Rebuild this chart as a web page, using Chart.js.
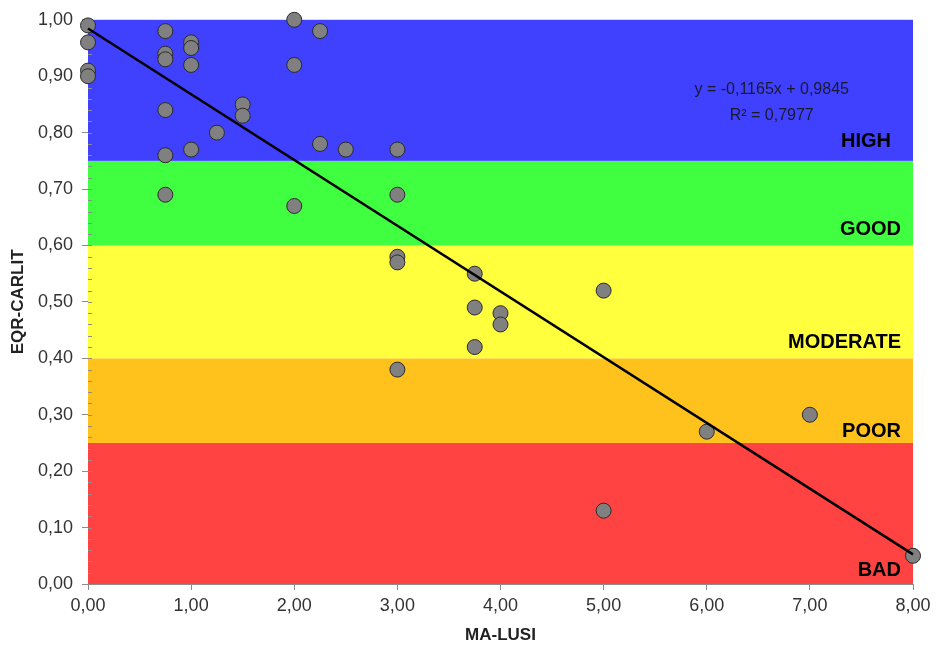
<!DOCTYPE html>
<html>
<head>
<meta charset="utf-8">
<title>EQR-CARLIT vs MA-LUSI</title>
<script src="https://cdn.jsdelivr.net/npm/chart.js@4/dist/chart.umd.min.js"></script>
<style>
    html, body { margin:0; padding:0; background:#ffffff; }
</style>
</head>
<body>
<canvas id="graficoCarlit" width="936" height="655"></canvas>
<script>

// valores
const maLusi = [
    0, 0, 0, 0,
    0.75, 0.75, 0.75, 0.75, 0.75, 0.75,
    1, 1, 1, 1,
    1.25,
    1.5, 1.5,
    2, 2, 2,
    2.25, 2.25,
    2.5,
    3, 3, 3, 3, 3,
    3.75, 3.75, 3.75,
    4, 4,
    5, 5,
    6,
    7,
    8
];

const eqrCarlit = [
    0.99, 0.96, 0.91, 0.90,
    0.98, 0.94, 0.93, 0.84, 0.76, 0.69,
    0.96, 0.95, 0.92, 0.77,
    0.80,
    0.85, 0.83,
    1.00, 0.92, 0.67,
    0.98, 0.78,
    0.77,
    0.77, 0.69, 0.58, 0.57, 0.38,
    0.55, 0.49, 0.42,
    0.48, 0.46,
    0.52, 0.13,
    0.27,
    0.30,
    0.05
];

// clases de estado ecologico (de abajo hacia arriba)
const limitesClases = [0, 0.25, 0.40, 0.60, 0.75, 1.00];
const nombresClases = ["BAD", "POOR", "MODERATE", "GOOD", "HIGH"];

// recta de regresion
const pendiente = -0.1165;
const intercepto = 0.9845;
const r2 = 0.7977;
const rangoRecta = [0, 8];

const coloresClases = [
    "#ff4242",
    "#ffc21c",
    "#ffff3d",
    "#40ff40",
    "#4040ff"
];

// separacion de cada rotulo respecto al borde inferior de su franja
const margenRotulo = {BAD:8, POOR:6, MODERATE:10, GOOD:10, HIGH:14};

const fuente = "'Liberation Sans', Arial, sans-serif";

function coma(v, dec){
    return v.toFixed(dec).replace(".", ",");
}

const pluginFranjas = {

    id:"franjas",

    beforeDatasetsDraw(chart){

        const {ctx, chartArea, scales} = chart;
        const y = scales.y;
        const x = scales.x;

        ctx.save();

        for (let i = 0; i < nombresClases.length; i++){

            const arriba = y.getPixelForValue(limitesClases[i + 1]);
            const abajo = y.getPixelForValue(limitesClases[i]);

            ctx.fillStyle = coloresClases[i];
            ctx.fillRect(
                chartArea.left,
                arriba,
                chartArea.right - chartArea.left,
                abajo - arriba
            );
        }

        // marcas menores del eje y
        ctx.strokeStyle = "#8c8c8c";
        ctx.lineWidth = 1;
        for (let k = 0; k <= 50; k++){
            const py = Math.round(y.getPixelForValue(k * 0.02)) + 0.5;
            ctx.beginPath();
            ctx.moveTo(chartArea.left, py);
            ctx.lineTo(chartArea.left + 4, py);
            ctx.stroke();
        }

        // nombres de las clases
        ctx.fillStyle = "#000000";
        ctx.font = "bold 20px " + fuente;
        ctx.textAlign = "right";
        ctx.textBaseline = "alphabetic";

        for (let i = 0; i < nombresClases.length; i++){

            const nombre = nombresClases[i];
            const abajo = y.getPixelForValue(limitesClases[i]);
            const derecha =
                nombre === "HIGH"
                ? chartArea.right - 22
                : chartArea.right - 12;

            ctx.fillText(nombre, derecha, abajo - margenRotulo[nombre]);
        }

        // ecuacion
        ctx.fillStyle = "#1a1a2e";
        ctx.font = "16px " + fuente;
        ctx.textAlign = "center";
        ctx.textBaseline = "middle";

        const cx = x.getPixelForValue(6.63);

        ctx.fillText(
            "y = " + coma(pendiente, 4) + "x + " + coma(intercepto, 4),
            cx,
            y.getPixelForValue(0.876)
        );

        ctx.fillText(
            "R\u00b2 = " + coma(r2, 4),
            cx,
            y.getPixelForValue(0.830)
        );

        ctx.restore();
    }
};

new Chart(

    document.getElementById("graficoCarlit"),

    {
        type:"scatter",

        data:{

            datasets:[

                {
                    type:"line",
                    label:"Lineal",
                    data:rangoRecta.map(
                        v => ({x:v, y:intercepto + pendiente * v})
                    ),
                    borderColor:"#000000",
                    borderWidth:2.5,
                    pointRadius:0,
                    fill:false,
                    clip:false,
                    order:0
                },

                {
                    label:"EQR-CARLIT",
                    data:maLusi.map(
                        (v, i) => ({x:v, y:eqrCarlit[i]})
                    ),
                    backgroundColor:"#808080",
                    borderColor:"#2a2a2a",
                    borderWidth:1,
                    pointRadius:7.5,
                    clip:false,
                    order:1
                }
            ]
        },

        options:{

            responsive:false,
            animation:false,
            devicePixelRatio:1,

            layout:{
                padding:{top:19, right:23, left:0, bottom:0}
            },

            plugins:{
                legend:{display:false},
                tooltip:{enabled:false}
            },

            scales:{

                x:{
                    type:"linear",
                    min:0,
                    max:8,
                    afterFit(scale){ scale.height = 71; },
                    border:{display:true, color:"#8c8c8c", width:1},
                    grid:{
                        drawOnChartArea:false,
                        drawTicks:true,
                        tickLength:6,
                        color:"#8c8c8c"
                    },
                    ticks:{
                        stepSize:1,
                        padding:5,
                        color:"#333333",
                        font:{family:fuente, size:18},
                        callback:v => coma(v, 2)
                    },
                    title:{
                        display:true,
                        text:"MA-LUSI",
                        color:"#222222",
                        font:{family:fuente, size:17, weight:"bold"},
                        padding:{top:0, bottom:9}
                    }
                },

                y:{
                    type:"linear",
                    min:0,
                    max:1,
                    afterFit(scale){ scale.width = 88; },
                    border:{display:true, color:"#8c8c8c", width:1},
                    grid:{
                        drawOnChartArea:false,
                        drawTicks:true,
                        tickLength:6,
                        color:"#8c8c8c"
                    },
                    ticks:{
                        stepSize:0.1,
                        padding:9,
                        color:"#333333",
                        font:{family:fuente, size:18},
                        callback:v => coma(v, 2)
                    },
                    title:{
                        display:true,
                        text:"EQR-CARLIT",
                        color:"#222222",
                        font:{family:fuente, size:17, weight:"bold"},
                        padding:{top:8, bottom:0}
                    }
                }
            }
        },

        plugins:[pluginFranjas]
    }
);

</script>
</body>
</html>
